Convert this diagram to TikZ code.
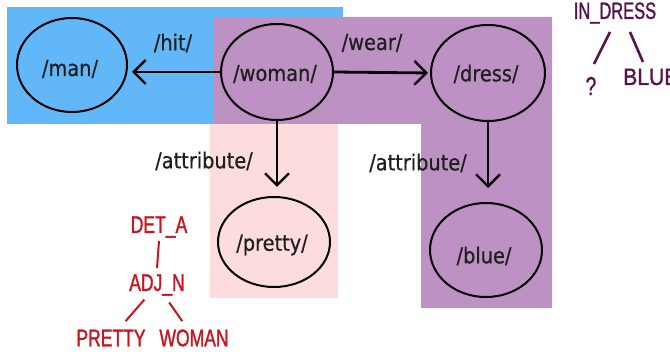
\documentclass[tikz,border=0pt]{standalone}
\usepackage{fontspec}
\setmainfont{DejaVu Sans}
\newfontfamily\lblfont[FakeStretch=0.88,FakeBold=0.6]{DejaVu Sans}
\newfontfamily\narrowfont[FakeStretch=0.73,FakeBold=1.2]{Liberation Sans}
\newfontfamily\narrowerfont[FakeStretch=0.7,FakeBold=1.2]{Liberation Sans}
\newfontfamily\widerfont[FakeStretch=0.9,FakeBold=1.2]{Liberation Sans}
\usetikzlibrary{arrows.meta,shapes.geometric}
\definecolor{bgblue}{RGB}{97,183,248}
\definecolor{bgpurple}{RGB}{190,145,196}
\definecolor{bgpink}{RGB}{252,220,220}
\definecolor{treered}{RGB}{200,20,30}
\definecolor{treepurple}{RGB}{85,20,75}
\tikzset{
  concept/.style={ellipse, draw=black, line width=2pt, inner sep=0pt},
  lbl/.style={inner sep=0pt, font=\lblfont\fontsize{22}{25}\selectfont, text=black!88},
  rel/.style={line width=2.8pt, -{Straight Barb[length=12pt,width=24pt,line width=2.4pt]}},
  redword/.style={inner sep=0pt, text=treered, font=\narrowfont\fontsize{24}{26}\selectfont},
  redline/.style={draw=treered, line width=2pt},
  purpword/.style={inner sep=0pt, text=treepurple, font=\narrowerfont\fontsize{23.5}{26}\selectfont},
  purpline/.style={draw=treepurple, line width=2.6pt},
}
\begin{document}
\begin{tikzpicture}[x=1pt,y=-1pt]
\useasboundingbox (0,0) rectangle (670,352);
\fill[white] (0,0) rectangle (670,352);
% backgrounds
\fill[bgblue] (7,7) rectangle (343,124);
\fill[bgpurple] (213,17) -- (552,17) -- (552,308) -- (421,308) -- (421,124) -- (213,124) -- cycle;
\fill[bgpink] (210,124) rectangle (338,298);
% concept nodes
\node[concept, minimum width=110pt, minimum height=94pt] (man) at (72,65) {};
\node[lbl] at (70,69) {/man/};
\node[concept, minimum width=112pt, minimum height=96pt] (woman) at (277,72) {};
\node[lbl] at (275,74) {/woman/};
\node[concept, minimum width=114pt, minimum height=96pt] (dress) at (488,73) {};
\node[lbl] at (486,74) {/dress/};
\node[concept, minimum width=112pt, minimum height=90pt] (pretty) at (274,242) {};
\node[lbl] at (272,245) {/pretty/};
\node[concept, minimum width=112pt, minimum height=94pt] (blue) at (486,250) {};
\node[lbl] at (484,256) {/blue/};
% relations
\draw[rel, shorten >=4pt] (woman.west) -- (woman.west -| man.east);
\draw[rel, shorten >=2pt] (woman.east) -- (dress.west);
\draw[rel, shorten >=9pt] (woman.south) -- (woman.south |- pretty.north);
\draw[rel, shorten >=14pt] (dress.south) -- (dress.south |- blue.north);
\node[lbl] (lhit) at (173,43) {/hit/};
\node[lbl] (lwear) at (372,43) {/wear/};
\node[lbl] (latt1) at (204,161) {/attribute/};
\node[lbl] (latt2) at (418,163) {/attribute/};
% red tree
\node[redword] (deta) at (159,227) {DET\_A};
\node[redword] (adjn) at (157,285) {ADJ\_N};
\node[redword] (wpretty) at (111,338) {PRETTY};
\node[redword] (wwoman) at (194,338) {WOMAN};
\draw[redline] ([yshift=-3pt]deta.south) -- ([yshift=6pt]adjn.north);
\draw[redline, shorten <=5pt, shorten >=11pt] (adjn) -- (wpretty);
\draw[redline, shorten <=8pt, shorten >=10pt] (adjn) -- (wwoman);
% purple tree
\node[purpword] (indress) at (615,13) {IN\_DRESS};
\node[purpword, font=\narrowfont\fontsize{26}{28}\selectfont] (qmark) at (591,86) {?};
\node[purpword, font=\widerfont\fontsize{23.5}{26}\selectfont, anchor=west] (wblue) at (623,77) {BLUE};
\coordinate (il1) at (610,32);
\coordinate (il2) at (594,64);
\coordinate (ir1) at (630,32);
\coordinate (ir2) at (643,62);
\draw[purpline] (il1) -- (il2);
\draw[purpline] (ir1) -- (ir2);
\end{tikzpicture}
\end{document}
